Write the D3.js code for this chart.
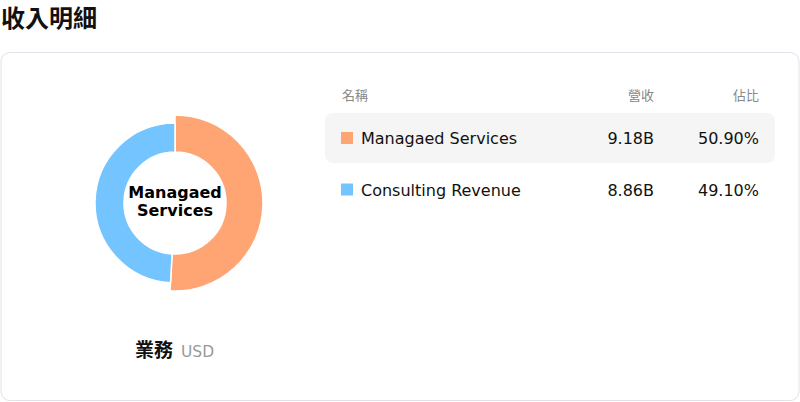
<!DOCTYPE html>
<html lang="zh-Hant">
  <head>
    <meta charset="UTF-8" />
    <title>收入明細</title>
    <style>
      body {
        margin: 0;
        background: #fff;
        font-family: "DejaVu Sans", "Noto Sans CJK TC", sans-serif;
      }
      svg {
        display: block;
      }
    </style>
  </head>
  <body>
    <svg width="800" height="402"></svg>

    <script src="https://cdn.jsdelivr.net/npm/d3@7/dist/d3.min.js"></script>
    <script>
      // data
      const categories = ["Managaed Services", "Consulting Revenue"];
      const revenue = [9.18, 8.86]; // billions USD
      const shares = [50.9, 49.1];
      const colors = ["#ffa574", "#74c4ff"];
      const headers = ["名稱", "營收", "佔比"];

      const svg = d3.select("svg");
      const font = '"DejaVu Sans", "Noto Sans CJK TC", sans-serif';
      const cjk = '"Noto Sans CJK TC", sans-serif';

      // title
      svg
        .append("text")
        .attr("x", 1)
        .attr("y", 27)
        .attr("font-size", 24)
        .attr("font-weight", "bold")
        .attr("font-family", cjk)
        .attr("fill", "#111")
        .text("收入明細");

      // card
      svg
        .append("rect")
        .attr("x", 1)
        .attr("y", 52.5)
        .attr("width", 798)
        .attr("height", 348)
        .attr("rx", 9)
        .attr("fill", "#fff")
        .attr("stroke", "#e2e0ea");

      // donut
      const cx = 175,
        cy = 203;
      const pie = d3.pie().sort(null).value((d) => d);
      const arcs = pie(shares);
      const arc = d3.arc().innerRadius(51).outerRadius(80);
      const arcHover = d3.arc().innerRadius(51).outerRadius(88);

      const g = svg.append("g").attr("transform", `translate(${cx},${cy})`);
      g.selectAll("path")
        .data(arcs)
        .join("path")
        .attr("d", (d, i) => (i === 0 ? arcHover(d) : arc(d)))
        .attr("fill", (d, i) => colors[i])
        .attr("stroke", "#fff")
        .attr("stroke-width", 1.5);

      // center label (active slice), one text per line
      const words = categories[0].split(" ");
      g.selectAll("text.center")
        .data(words)
        .join("text")
        .attr("class", "center")
        .attr("x", 0)
        .attr("y", (d, i) => -5 + i * 18)
        .attr("text-anchor", "middle")
        .attr("font-size", 16)
        .attr("font-weight", "bold")
        .attr("font-family", font)
        .attr("fill", "#000")
        .text((d) => d);

      // bottom label
      const lbl = svg
        .append("text")
        .attr("x", 135)
        .attr("y", 357)
        .attr("font-family", font);
      lbl
        .append("tspan")
        .attr("font-size", 19)
        .attr("font-weight", "bold")
        .attr("font-family", cjk)
        .attr("fill", "#111")
        .text("業務");
      lbl
        .append("tspan")
        .attr("dx", 8)
        .attr("font-size", 15.5)
        .attr("fill", "#999")
        .text("USD");

      // table
      const colX = [342, 654, 759];
      const rowY = d3
        .scaleBand()
        .domain(categories)
        .range([113, 215])
        .paddingInner(0.02);

      svg
        .append("g")
        .selectAll("text")
        .data(headers)
        .join("text")
        .attr("x", (d, i) => colX[i])
        .attr("y", 100)
        .attr("text-anchor", (d, i) => (i === 0 ? "start" : "end"))
        .attr("font-size", 13)
        .attr("font-family", cjk)
        .attr("fill", "#888")
        .text((d) => d);

      const rows = svg
        .append("g")
        .selectAll("g")
        .data(categories)
        .join("g")
        .attr("transform", (d) => `translate(0,${rowY(d)})`);

      rows
        .filter((d, i) => i === 0)
        .append("rect")
        .attr("x", 325)
        .attr("y", 0)
        .attr("width", 450)
        .attr("height", 50)
        .attr("rx", 8)
        .attr("fill", "#f5f5f5");

      const mid = 25;
      rows
        .append("rect")
        .attr("x", 341)
        .attr("y", mid - 6)
        .attr("width", 12)
        .attr("height", 12)
        .attr("fill", (d, i) => colors[i]);

      rows
        .append("text")
        .attr("x", 361)
        .attr("y", mid + 6)
        .attr("font-size", 16)
        .attr("font-family", font)
        .attr("fill", "#111")
        .text((d) => d);

      rows
        .append("text")
        .attr("x", colX[1])
        .attr("y", mid + 6)
        .attr("text-anchor", "end")
        .attr("font-size", 16)
        .attr("font-family", font)
        .attr("fill", "#111")
        .text((d, i) => revenue[i].toFixed(2) + "B");

      rows
        .append("text")
        .attr("x", colX[2])
        .attr("y", mid + 6)
        .attr("text-anchor", "end")
        .attr("font-size", 16)
        .attr("font-family", font)
        .attr("fill", "#111")
        .text((d, i) => shares[i].toFixed(2) + "%");
    </script>
  </body>
</html>
